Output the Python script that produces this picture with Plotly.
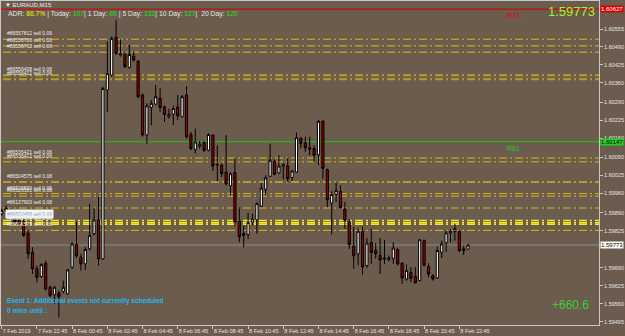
import plotly.graph_objects as go

# ---------------- data ----------------
opens = [1.59886, 1.59907, 1.59896, 1.59877, 1.59862, 1.59860, 1.59816, 1.59747, 1.59687, 1.59659,
         1.59707, 1.59620, 1.59593, 1.59599, 1.59605, 1.59596, 1.59693, 1.59775, 1.59729, 1.59705,
         1.59759, 1.59814, 1.59864, 1.59723, 1.60334, 1.60388, 1.60525, 1.60461, 1.60463, 1.60415,
         1.60457, 1.60438, 1.60316, 1.60171, 1.60271, 1.60283, 1.60304, 1.60273, 1.60237, 1.60247,
         1.60273, 1.60237, 1.60316, 1.60173, 1.60119, 1.60131, 1.60144, 1.60116, 1.60171, 1.60065,
         1.60062, 1.60037, 1.59987, 1.60035, 1.59860, 1.59814, 1.59811, 1.59856, 1.59864, 1.59914,
         1.59975, 1.60022, 1.60076, 1.60034, 1.60058, 1.60059, 1.60017, 1.60037, 1.60158, 1.60143,
         1.60125, 1.60122, 1.60100, 1.60221, 1.60046, 1.59925, 1.59956, 1.59967, 1.59904, 1.59856,
         1.59769, 1.59741, 1.59822, 1.59699, 1.59782, 1.59753, 1.59735, 1.59722, 1.59726, 1.59725,
         1.59756, 1.59707, 1.59650, 1.59674, 1.59659, 1.59644, 1.59789, 1.59696, 1.59662, 1.59654,
         1.59747, 1.59781, 1.59817, 1.59822, 1.59822, 1.59759, 1.59758]
highs = [1.59904, 1.59916, 1.59904, 1.59880, 1.59868, 1.59874, 1.59826, 1.59765, 1.59699, 1.59707,
         1.59717, 1.59626, 1.59626, 1.59608, 1.59644, 1.59687, 1.59783, 1.59856, 1.59741, 1.59765,
         1.59923, 1.59907, 1.59947, 1.60346, 1.60509, 1.60528, 1.60588, 1.60518, 1.60469, 1.60497,
         1.60473, 1.60443, 1.60322, 1.60286, 1.60298, 1.60352, 1.60340, 1.60279, 1.60267, 1.60279,
         1.60316, 1.60316, 1.60348, 1.60183, 1.60195, 1.60150, 1.60149, 1.60177, 1.60173, 1.60134,
         1.60068, 1.60171, 1.60037, 1.60086, 1.59910, 1.59844, 1.59890, 1.59886, 1.59929, 1.59998,
         1.60025, 1.60140, 1.60082, 1.60098, 1.60068, 1.60088, 1.60044, 1.60180, 1.60165, 1.60165,
         1.60165, 1.60134, 1.60225, 1.60225, 1.60050, 1.59968, 1.59999, 1.59989, 1.59929, 1.59866,
         1.59838, 1.59832, 1.59841, 1.59799, 1.59832, 1.59780, 1.59799, 1.59792, 1.59735, 1.59783,
         1.59762, 1.59711, 1.59702, 1.59693, 1.59693, 1.59794, 1.59793, 1.59707, 1.59668, 1.59768,
         1.59789, 1.59826, 1.59832, 1.59850, 1.59826, 1.59771, 1.59777]
lows = [1.59880, 1.59892, 1.59874, 1.59848, 1.59844, 1.59802, 1.59723, 1.59668, 1.59638, 1.59654,
        1.59608, 1.59584, 1.59560, 1.59511, 1.59596, 1.59593, 1.59687, 1.59726, 1.59680, 1.59683,
        1.59753, 1.59808, 1.59699, 1.59719, 1.60255, 1.60382, 1.60461, 1.60455, 1.60413, 1.60413,
        1.60437, 1.60304, 1.60165, 1.60140, 1.60207, 1.60279, 1.60255, 1.60219, 1.60231, 1.60207,
        1.60225, 1.60235, 1.60158, 1.60116, 1.60104, 1.60122, 1.60110, 1.60112, 1.60041, 1.60004,
        1.60019, 1.59989, 1.59953, 1.59841, 1.59783, 1.59765, 1.59795, 1.59844, 1.59814, 1.59910,
        1.59953, 1.60019, 1.60025, 1.60031, 1.60010, 1.60001, 1.60005, 1.60034, 1.60122, 1.60110,
        1.60098, 1.60074, 1.60062, 1.60013, 1.59910, 1.59811, 1.59929, 1.59904, 1.59832, 1.59759,
        1.59687, 1.59699, 1.59666, 1.59690, 1.59705, 1.59723, 1.59668, 1.59705, 1.59714, 1.59705,
        1.59699, 1.59632, 1.59644, 1.59638, 1.59635, 1.59642, 1.59695, 1.59656, 1.59644, 1.59650,
        1.59726, 1.59747, 1.59783, 1.59789, 1.59747, 1.59737, 1.59756]
closes = [1.59898, 1.59898, 1.59880, 1.59856, 1.59850, 1.59808, 1.59741, 1.59687, 1.59656, 1.59702,
          1.59614, 1.59590, 1.59620, 1.59586, 1.59620, 1.59683, 1.59777, 1.59734, 1.59705, 1.59757,
          1.59808, 1.59864, 1.59723, 1.60340, 1.60394, 1.60521, 1.60467, 1.60467, 1.60419, 1.60463,
          1.60443, 1.60310, 1.60171, 1.60277, 1.60286, 1.60310, 1.60271, 1.60246, 1.60246, 1.60267,
          1.60241, 1.60310, 1.60165, 1.60122, 1.60146, 1.60138, 1.60116, 1.60173, 1.60059, 1.60063,
          1.60031, 1.59995, 1.60031, 1.59856, 1.59802, 1.59808, 1.59854, 1.59868, 1.59923, 1.59979,
          1.60016, 1.60080, 1.60029, 1.60059, 1.60065, 1.60013, 1.60041, 1.60162, 1.60140, 1.60125,
          1.60119, 1.60098, 1.60221, 1.60050, 1.59937, 1.59956, 1.59971, 1.59908, 1.59862, 1.59775,
          1.59734, 1.59823, 1.59693, 1.59780, 1.59746, 1.59741, 1.59719, 1.59726, 1.59722, 1.59762,
          1.59705, 1.59654, 1.59680, 1.59653, 1.59636, 1.59792, 1.59701, 1.59668, 1.59650, 1.59753,
          1.59777, 1.59817, 1.59822, 1.59832, 1.59753, 1.59753, 1.59773]

tick_bars = [0, 8, 16, 24, 32, 40, 48, 56, 64, 72, 80, 88, 96, 104]
tick_labels = ["7 Feb 2019", "7 Feb 22:45", "8 Feb 00:45", "8 Feb 02:45", "8 Feb 04:45",
               "8 Feb 06:45", "8 Feb 08:45", "8 Feb 10:45", "8 Feb 12:45", "8 Feb 14:45",
               "8 Feb 16:45", "8 Feb 18:45", "8 Feb 20:45", "8 Feb 22:45"]

price_ticks = [1.60555, 1.60490, 1.60425, 1.60360, 1.60290, 1.60225, 1.60160, 1.60090, 1.60025,
               1.59960, 1.59890, 1.59825, 1.59690, 1.59625, 1.59560, 1.59495]
price_tick_labels = ["1.60555", "1.60490", "1.60425", "1.60360", "1.60290", "1.60225", "1.60160",
                     "1.60090", "1.60025", "1.59960", "1.59890", "1.59825", "1.59690", "1.59625",
                     "1.59560", "1.59495"]

order_prices = [1.60518, 1.60494, 1.60471, 1.60388, 1.60373, 1.60088, 1.60074, 1.60001, 1.59959,
                1.59950, 1.59907, 1.59862, 1.59854, 1.59848, 1.59826]
order_labels = ["#86557812 sell 0.06", "#86556780 sell 0.06", "#86556762 sell 0.06",
                "#86556408 sell 0.06", "#86556412 sell 0.06", "#86536421 sell 0.06",
                "#86536412 sell 0.06", "#86504575 sell 0.08", "#86526593 sell 0.06",
                "#86526581 sell 0.06", "#86137903 sell 0.08", "#86502498 sell 0.06",
                "#86502471 sell 0.06", "#86502460 sell 0.06", "#86501575 sell 0.06"]
order_kind = ["a", "a", "a", "b", "b", "a", "a", "b", "a", "a", "a", "c", "c", "c", "a"]

r78_price = 1.60627
r61_price = 1.60147
last_price = 1.59773
adr = "86.7%"
ranges = [("Today", "107"), ("1 Day", "89"), ("5 Day", "132"), ("10 Day", "127"), ("20 Day", "120")]
profit = "+660.6"

# ---------------- layout geometry ----------------
W_PX, H_PX = 625, 336
L, R, T, B = 1, 26, 1, 11
PW = W_PX - L - R
PH = H_PX - T - B
BAR_PX = 4.4


def px(x):
    return (x - L) / PW


def py(y):
    return 1 - (y - T) / PH


BG = "#6B5C4D"
TXT = "#E6E6E6"
FONT = "Liberation Sans, Arial, sans-serif"

bars = list(range(len(opens)))

fig = go.Figure(go.Candlestick(
    x=bars, open=opens, high=highs, low=lows, close=closes,
    increasing=dict(fillcolor="#FFFFFF", line=dict(color="#000000", width=1)),
    decreasing=dict(fillcolor="#9A0000", line=dict(color="#000000", width=1)),
    whiskerwidth=0, hoverinfo="skip", showlegend=False))

x0 = -(1.7 - L) / BAR_PX
y_top = 1.60555 + (29 - T) * 0.0000362
y_bot = y_top - PH * 0.0000362

kind_style = {"a": ("#D9B816", 1), "b": ("#B49B2C", 2), "c": ("#F5EB1A", 1.5)}
for p, lab, k in zip(order_prices, order_labels, order_kind):
    col, w = kind_style[k]
    fig.add_shape(type="line", xref="paper", yref="y", x0=px(3), x1=1, y0=p, y1=p,
                  line=dict(color=col, width=w, dash="8px,3px,2px,3px"), layer="below")
    ann = dict(xref="paper", yref="y", x=px(5), y=p, text=lab, showarrow=False,
               xanchor="left", yanchor="bottom", yshift=1,
               font=dict(family=FONT, size=5, color="#EDEDED"))
    if lab == "#86502498 sell 0.06":
        ann["bgcolor"] = "#F4F4F4"
        ann["font"] = dict(family=FONT, size=5, color="#7FA6C8")
    fig.add_annotation(**ann)

# level lines
fig.add_shape(type="line", xref="paper", yref="y", x0=0, x1=1, y0=r78_price, y1=r78_price,
              line=dict(color="#D00000", width=1), layer="below")
fig.add_shape(type="line", xref="paper", yref="y", x0=0, x1=1, y0=r61_price, y1=r61_price,
              line=dict(color="#1FC21F", width=1), layer="below")
fig.add_shape(type="line", xref="paper", yref="y", x0=0, x1=1, y0=last_price, y1=last_price,
              line=dict(color="#8E8E8E", width=1), layer="below")

fig.add_annotation(xref="paper", yref="y", x=px(505), y=r78_price, text="R78", showarrow=False,
                   xanchor="left", yanchor="top", yshift=-1,
                   font=dict(family=FONT, size=7, color="#E00000"))
fig.add_annotation(xref="paper", yref="y", x=px(505), y=r61_price, text="R61", showarrow=False,
                   xanchor="left", yanchor="top", yshift=-1,
                   font=dict(family=FONT, size=7, color="#22D022"))

# right-axis price boxes
for p, bg, fc in [(r78_price, "#E00000", "#FFFFFF"), (r61_price, "#22D022", "#000000"),
                  (last_price, "#FFFFFF", "#000000")]:
    fig.add_annotation(xref="paper", yref="y", x=1, y=p, text=f"{p:.5f}", showarrow=False,
                       xanchor="left", yanchor="middle", xshift=1, bgcolor=bg, borderpad=0,
                       font=dict(family=FONT, size=6, color=fc))

# header texts
fig.add_annotation(xref="paper", yref="paper", x=px(3), y=py(5), text="▼ EURAUD,M15",
                   showarrow=False, xanchor="left", yanchor="middle",
                   font=dict(family=FONT, size=6, color="#F0F0F0"))
hdr = f"ADR: <span style='color:#F2F200'>{adr}</span>"
seps = [" | ", "| ", " | ", "| ", "|  "]
for sep, (name, val) in zip(seps, ranges):
    hdr += f"{sep}{name}: <span style='color:#22E022'>{val}</span>"
fig.add_annotation(xref="paper", yref="paper", x=px(6), y=py(14), text=hdr,
                   showarrow=False, xanchor="left", yanchor="middle",
                   font=dict(family=FONT, size=6.8, color="#E4E4E4"))

fig.add_annotation(xref="paper", yref="paper", x=px(597), y=py(11), text=f"{last_price:.5f}",
                   showarrow=False, xanchor="right", yanchor="middle",
                   font=dict(family=FONT, size=13, color="#A8F028"))
fig.add_annotation(xref="paper", yref="paper", x=px(591), y=py(305), text=profit,
                   showarrow=False, xanchor="right", yanchor="middle",
                   font=dict(family=FONT, size=12, color="#34D034"))
fig.add_annotation(xref="paper", yref="paper", x=px(5), y=py(301),
                   text="<b>Event 1: Additional events not currently scheduled</b>",
                   showarrow=False, xanchor="left", yanchor="middle",
                   font=dict(family=FONT, size=6.5, color="#1EB8F0"))
fig.add_annotation(xref="paper", yref="paper", x=px(5), y=py(310),
                   text="<b>0 mins until :</b>",
                   showarrow=False, xanchor="left", yanchor="middle",
                   font=dict(family=FONT, size=6.5, color="#1EB8F0"))

fig.update_layout(
    width=W_PX, height=H_PX,
    margin=dict(l=L, r=R, t=T, b=B, pad=0, autoexpand=False),
    paper_bgcolor=BG, plot_bgcolor=BG,
    showlegend=False,
    xaxis=dict(range=[x0, x0 + PW / BAR_PX], rangeslider=dict(visible=False),
               tickmode="array", tickvals=tick_bars, ticktext=tick_labels,
               ticklabelposition="outside right", tickangle=0, automargin=False,
               tickfont=dict(family=FONT, size=5.5, color=TXT),
               ticks="outside", ticklen=3, tickcolor="#C8C8C8",
               showgrid=False, zeroline=False, showline=True, mirror=True,
               linecolor="#C8C8C8", linewidth=1, fixedrange=True),
    yaxis=dict(range=[y_bot, y_top], side="right", automargin=False,
               tickmode="array", tickvals=price_ticks, ticktext=price_tick_labels,
               tickfont=dict(family=FONT, size=5.5, color=TXT),
               ticks="outside", ticklen=3, tickcolor="#C8C8C8",
               showgrid=False, zeroline=False, showline=True, mirror=True,
               linecolor="#C8C8C8", linewidth=1, fixedrange=True),
)

fig.write_html("out.html")
